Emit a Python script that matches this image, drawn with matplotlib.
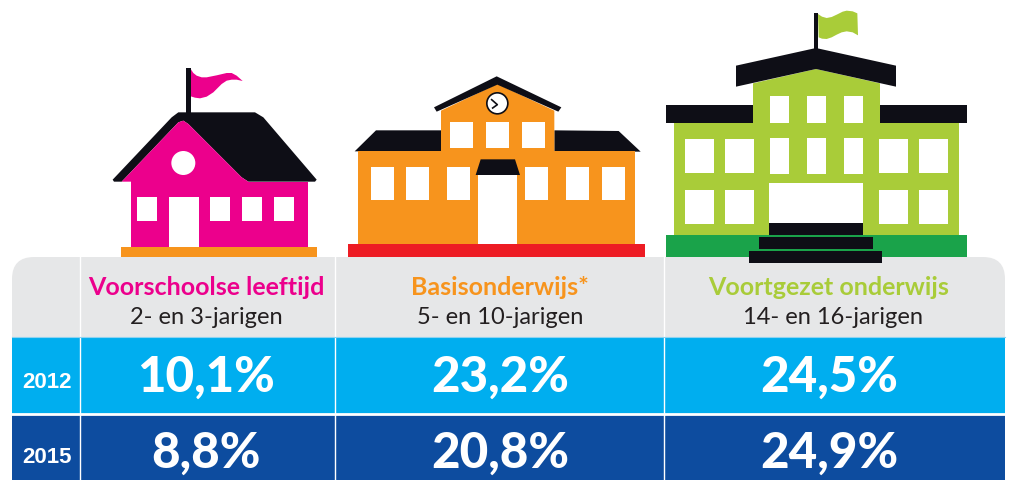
import matplotlib.pyplot as plt
from matplotlib.patches import Circle, FancyBboxPatch, Polygon, Rectangle

# table content
years = ["2012", "2015"]
categories = ["Voorschoolse leeftijd", "Basisonderwijs*", "Voortgezet onderwijs"]
age_groups = ["2- en 3-jarigen", "5- en 10-jarigen", "14- en 16-jarigen"]
values_2012 = ["10,1%", "23,2%", "24,5%"]
values_2015 = ["8,8%", "20,8%", "24,9%"]
rows = [values_2012, values_2015]

PINK = "#ec008c"
ORANGE = "#f7941d"
LIME = "#a9cc39"
BLACK = "#0e0e16"
RED = "#ed1c24"
GREEN = "#1aa34a"
GREY = "#e6e7e8"
ROW_COLORS = ["#00aeef", "#0d4c9f"]

COL_EDGES = [12, 80, 334.5, 664, 1005]
ROW_EDGES = [338, 414.5, 481]
TEXT_CENTERS = [206, 500, 829]
AGE_CENTERS = [206, 500, 833]
VALUE_BASELINES = [392, 468]
YEAR_BASELINES = [388, 463.5]

plt.rcParams["font.family"] = ["Lato", "DejaVu Sans"]

fig = plt.figure(figsize=(10.1, 4.81), dpi=100)
ax = fig.add_axes([0, 0, 1, 1])
ax.set_xlim(0, 1010)
ax.set_ylim(481, 0)
ax.axis("off")


def zoomed(points, x0, y0):
    return [(x0 + x / 3, y0 + y / 3) for x, y in points]


def poly(points, x0, y0, color, z=2):
    ax.add_patch(Polygon(zoomed(points, x0, y0), closed=True, fc=color, ec="none", zorder=z))


def box(x1, y1, x2, y2, x0, y0, color, z=2):
    ax.add_patch(Rectangle((x0 + x1 / 3, y0 + y1 / 3), (x2 - x1) / 3, (y2 - y1) / 3,
                           fc=color, ec="none", zorder=z))


def draw_house():
    x0, y0 = 100, 60
    poly([(272, 30), (280, 42), (290, 50), (305, 55), (320, 55), (350, 49), (380, 42),
          (395, 42), (410, 50), (428, 66), (410, 62), (395, 62), (380, 65), (365, 75),
          (340, 100), (320, 113), (300, 118), (285, 116), (272, 112)], x0, y0, PINK)
    box(258, 27, 272, 165, x0, y0, BLACK)
    poly([(38, 362), (215, 175), (235, 160), (465, 160), (490, 175), (650, 362), (645, 368),
          (445, 368), (425, 355), (265, 195), (250, 185), (235, 190), (65, 368), (42, 368)],
         x0, y0, BLACK)
    poly([(65, 368), (235, 190), (250, 185), (265, 195), (425, 355), (445, 368), (445, 380),
          (93, 380), (93, 368)], x0, y0, PINK)
    box(93, 368, 624, 564, x0, y0, PINK)
    ax.add_patch(Circle((x0 + 250 / 3, y0 + 312 / 3), 12, fc="white", ec="none", zorder=3))
    for x in [111, 330, 426, 522]:
        box(x, 414, x + 60, 486, x0, y0, "white", 3)
    box(207, 414, 297, 564, x0, y0, "white", 3)
    box(63, 564, 651, 594, x0, y0, ORANGE)


def draw_primary():
    x0, y0 = 340, 70
    poly([(44, 247), (108, 184), (303, 184), (303, 247)], x0, y0, BLACK)
    poly([(643, 184), (836, 186), (902, 248), (643, 248)], x0, y0, BLACK)
    box(55, 247, 886, 525, x0, y0, ORANGE)
    poly([(303, 260), (303, 125), (472, 45), (643, 125), (643, 260)], x0, y0, ORANGE)
    poly([(282, 115), (470, 22), (664, 115), (655, 128), (472, 47), (290, 128)], x0, y0, BLACK)
    ax.add_patch(Circle((x0 + 472 / 3, y0 + 103 / 3), 10.5, fc="white", ec=BLACK, lw=1.2, zorder=3))
    ax.plot([x0 + 455 / 3, x0 + 472 / 3, x0 + 458 / 3], [y0 + 92 / 3, y0 + 107 / 3, y0 + 117 / 3],
            color=BLACK, lw=1.2, zorder=4)
    for x in [331, 439, 547]:
        box(x, 160, x + 68, 236, x0, y0, "white", 3)
    for x in [93, 198, 322, 555, 677, 787]:
        box(x, 295, x + 69, 394, x0, y0, "white", 3)
    box(414, 318, 532, 525, x0, y0, "white", 3)
    poly([(407, 318), (422, 271), (525, 271), (540, 318)], x0, y0, BLACK, 4)
    box(24, 525, 915, 564, x0, y0, RED)


def draw_secondary():
    x0, y0 = 660, 5
    box(462, 27, 474, 135, x0, y0, BLACK)
    poly([(474, 30), (486, 38), (500, 42), (515, 39), (530, 32), (548, 23), (560, 20),
          (578, 22), (592, 28), (594, 94), (578, 85), (560, 82), (545, 85), (530, 92),
          (515, 100), (500, 105), (486, 104), (476, 100)], x0, y0, LIME)
    box(42, 357, 897, 693, x0, y0, LIME)
    poly([(279, 370), (279, 238), (468, 195), (660, 238), (660, 370)], x0, y0, LIME)
    poly([(228, 185), (468, 132), (708, 185), (708, 248), (468, 195), (228, 248)], x0, y0, BLACK, 3)
    box(18, 303, 279, 357, x0, y0, BLACK)
    box(660, 303, 921, 357, x0, y0, BLACK)
    for x in [330, 441, 552]:
        box(x, 276, x + 57, 357, x0, y0, "white", 3)
        box(x, 402, x + 57, 510, x0, y0, "white", 3)
    for x in [75, 195, 657, 777]:
        box(x, 405, x + 87, 507, x0, y0, "white", 3)
        box(x, 558, x + 87, 660, x0, y0, "white", 3)
    box(327, 537, 609, 657, x0, y0, "white", 3)
    box(18, 693, 921, 759, x0, y0, GREEN)
    box(327, 657, 609, 693, x0, y0, BLACK, 4)
    box(297, 699, 639, 735, x0, y0, BLACK, 4)
    box(267, 741, 666, 777, x0, y0, BLACK, 4)


draw_house()
draw_primary()
draw_secondary()

# header band with rounded top corners
ax.add_patch(FancyBboxPatch((12 + 22, 258 + 22), 1005 - 12 - 44, 100,
                            boxstyle="round,pad=22,rounding_size=22",
                            fc=GREY, ec="none", zorder=1))

# rows
for i, (year, vals) in enumerate(zip(years, rows)):
    top, bottom = ROW_EDGES[i], ROW_EDGES[i + 1]
    ax.add_patch(Rectangle((COL_EDGES[0], top), COL_EDGES[-1] - COL_EDGES[0], bottom - top,
                           fc=ROW_COLORS[i], ec="none", zorder=2))
    ax.text(47, YEAR_BASELINES[i], year, color="white", fontsize=16, fontweight="bold",
            family=["Liberation Sans", "DejaVu Sans"], ha="center", va="baseline", zorder=5)
    for cx, val in zip(TEXT_CENTERS, vals):
        ax.text(cx, VALUE_BASELINES[i], val, color="white", fontsize=35.5, fontweight="black",
                ha="center", va="baseline", zorder=5)

# column headings
for cat, age, col, cx, age_cx in zip(categories, age_groups, [PINK, ORANGE, LIME],
                                     TEXT_CENTERS, AGE_CENTERS):
    ax.text(cx, 295, cat, color=col, fontsize=18, fontweight="bold",
            ha="center", va="baseline", zorder=5)
    ax.text(age_cx, 324, age, color="#231f20", fontsize=17,
            ha="center", va="baseline", zorder=5)

# dividers
for x in COL_EDGES[1:-1]:
    ax.plot([x, x], [258, 481], color="white", lw=1, zorder=4)
ax.plot([12, 1005], [338, 338], color="#8fd3f0", lw=0.8, zorder=4)
ax.plot([12, 1005], [414.5, 414.5], color="white", lw=2, zorder=4)

fig.savefig("out.png", dpi=100)
